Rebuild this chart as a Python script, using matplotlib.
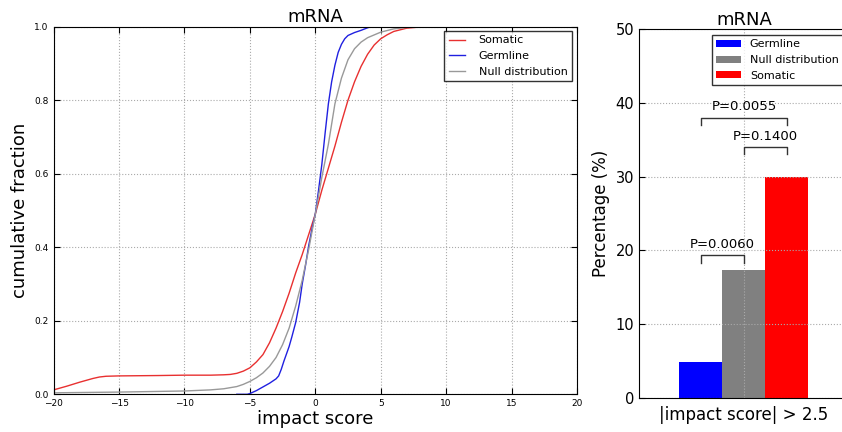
import matplotlib.pyplot as plt

# cumulative curves
x_somatic = [-20, -19, -18, -17, -16.5, -16, -15, -12, -10, -8, -7, -6.5, -6, -5.5, -5, -4.5, -4, -3.5,
             -3, -2.5, -2, -1.5, -1, -0.5, 0, 0.5, 1, 1.5, 2, 2.5, 3, 3.5, 4, 4.5, 5, 5.5, 6, 7, 8, 10, 20]
y_somatic = [0.012, 0.022, 0.033, 0.043, 0.047, 0.049, 0.05, 0.051, 0.052, 0.052, 0.053, 0.054, 0.057,
             0.063, 0.072, 0.088, 0.108, 0.14, 0.18, 0.225, 0.275, 0.33, 0.38, 0.435, 0.49, 0.555, 0.615,
             0.675, 0.74, 0.8, 0.85, 0.892, 0.925, 0.95, 0.967, 0.978, 0.987, 0.996, 0.999, 1.0, 1.0]

x_germline = [-6, -5.2, -5, -4.5, -4, -3.5, -3, -2.8, -2.6, -2.4, -2.2, -2, -1.8, -1.5, -1.2, -1, -0.75,
              -0.5, -0.25, 0, 0.25, 0.5, 0.75, 1, 1.25, 1.5, 1.75, 2, 2.25, 2.5, 3, 3.5, 4, 4.3, 20]
y_germline = [0.0, 0.0, 0.002, 0.01, 0.02, 0.03, 0.042, 0.05, 0.068, 0.09, 0.11, 0.13, 0.155, 0.195,
              0.25, 0.3, 0.35, 0.405, 0.45, 0.49, 0.555, 0.625, 0.71, 0.79, 0.85, 0.895, 0.93, 0.952,
              0.967, 0.976, 0.984, 0.99, 0.997, 1.0, 1.0]

x_null = [-20, -15, -10, -8, -7, -6, -5.5, -5, -4.5, -4, -3.5, -3, -2.5, -2, -1.5, -1, -0.5, 0, 0.5,
          1, 1.5, 2, 2.5, 3, 3.5, 4, 5, 6, 7, 8, 20]
y_null = [0.004, 0.006, 0.009, 0.012, 0.015, 0.021, 0.027, 0.035, 0.045, 0.058, 0.076, 0.1, 0.135,
          0.18, 0.24, 0.31, 0.395, 0.49, 0.59, 0.68, 0.79, 0.86, 0.91, 0.94, 0.958, 0.97, 0.985, 0.994,
          0.998, 1.0, 1.0]

# bar chart
bar_labels = ['Germline', 'Null distribution', 'Somatic']
bar_values = [4.9, 17.3, 30.0]
bar_colors = ['blue', 'gray', 'red']
pvals = [('P=0.0060', 0, 1, 19.3), ('P=0.0055', 0, 2, 38.0), ('P=0.1400', 1, 2, 34.0)]

W, H = 842, 432
fig = plt.figure(figsize=(W / 100, H / 100), dpi=100)

# ---- left: cumulative fraction ----
ax1 = fig.add_axes([0.0637, 0.0873, 0.6215, 0.851])
ax1.plot(x_somatic, y_somatic, color='#e83030', lw=1, label='Somatic')
ax1.plot(x_germline, y_germline, color='#2020e0', lw=1, label='Germline')
ax1.plot(x_null, y_null, color='#999999', lw=1, label='Null distribution')
ax1.set_xlim(-20, 20)
ax1.set_ylim(0, 1)
ax1.set_xticks(range(-20, 21, 5))
ax1.set_yticks([0, 0.2, 0.4, 0.6, 0.8, 1.0])
ax1.set_yticklabels(['0.0', '0.2', '0.4', '0.6', '0.8', '1.0'])
ax1.tick_params(direction='in', top=True, right=True, labelsize=6.5, length=4)
ax1.grid(True, ls=':', color='#aaaaaa', lw=0.8)
ax1.set_title('mRNA', fontsize=13, pad=3)
ax1.set_xlabel('impact score', fontsize=13, labelpad=1)
ax1.set_ylabel('cumulative fraction', fontsize=13)
leg = ax1.legend(loc='upper right', fontsize=8, fancybox=False, edgecolor='black',
                 borderaxespad=0, handlelength=1.5, handletextpad=1.2,
                 bbox_to_anchor=(572 / W, 1 - 31 / H), bbox_transform=fig.transFigure)
leg.get_frame().set_linewidth(1)

# ---- right: percentage bars ----
ax2 = fig.add_axes([0.759, 0.0794, 0.249, 0.853])
positions = [-1, 0, 1]
for pos, val, col, lab in zip(positions, bar_values, bar_colors, bar_labels):
    ax2.bar(pos, val, width=1.0, color=col, edgecolor='none', label=lab)
for text, i, j, top in pvals:
    x0, x1 = positions[i], positions[j]
    ax2.plot([x0, x0, x1, x1], [top - 1.0, top, top, top - 1.0], color='#333333', lw=1)
    ax2.text((x0 + x1) / 2, top + 1.0, text, ha='center', va='baseline', fontsize=9.5)
ax2.set_xlim(-2.44, 2.44)
ax2.set_ylim(0, 50)
ax2.set_xticks([0])
ax2.set_xticklabels(['|impact score| > 2.5'], fontsize=12)
ax2.set_yticks(range(0, 51, 10))
ax2.tick_params(axis='y', direction='in', right=True, labelsize=10.5, length=4)
ax2.tick_params(axis='x', direction='in', length=0, pad=6)
ax2.grid(True, ls=':', color='#aaaaaa', lw=0.8)
ax2.set_axisbelow('line')
ax2.set_title('mRNA', fontsize=13, pad=3)
ax2.set_ylabel('Percentage (%)', fontsize=12)
leg2 = ax2.legend(loc='upper left', fontsize=8, fancybox=False, edgecolor='black',
                  borderaxespad=0, handlelength=2.2, handleheight=0.6,
                  bbox_to_anchor=(712 / W, 1 - 35 / H), bbox_transform=fig.transFigure)
leg2.get_frame().set_linewidth(1)

fig.savefig('out.png', dpi=100)
